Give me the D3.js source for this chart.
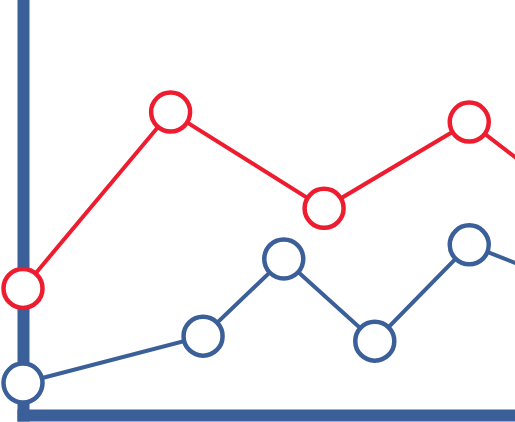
<!DOCTYPE html>
<html>
<head>
<meta charset="utf-8">
<script src="https://cdn.jsdelivr.net/npm/d3@7"></script>
<style>
  html, body { margin: 0; padding: 0; background: #fff; overflow: hidden; }
  svg { display: block; }
</style>
</head>
<body>
<svg></svg>
<script>
let width = 515, height = 422;

// data (x in arbitrary units, y in arbitrary units)
let redX = [0, 3.0, 6.12, 9.07, 10.9];
let redY = [3.05, 7.3, 4.98, 7.06, 5.4];
let blueX = [0, 3.66, 5.3, 7.15, 9.07, 10.9];
let blueY = [0.77, 1.9, 3.76, 1.78, 4.1, 3.25];

let red = "#ED1C2E", blue = "#3A5F99";

let svg = d3.select("svg")
    .attr("width", width)
    .attr("height", height);

let x = d3.scaleLinear().domain([0, 10]).range([23, 515]);
let y = d3.scaleLinear().domain([0, 10]).range([415, 0]);

// axes, no ticks, just fat domain lines
let xAxis = svg.append("g")
    .attr("transform", "translate(0," + 415 + ")")
    .call(d3.axisBottom(x).ticks(0).tickSizeOuter(0));
let yAxis = svg.append("g")
    .attr("transform", "translate(" + 23 + ",0)")
    .call(d3.axisLeft(y).ticks(0).tickSizeOuter(0));

svg.selectAll(".domain")
    .attr("stroke", blue)
    .attr("stroke-width", 12)
    .attr("stroke-linecap", "square");

let series = [
    {color: red, pts: redX.map((v, i) => [v, redY[i]])},
    {color: blue, pts: blueX.map((v, i) => [v, blueY[i]])}
];

let line = d3.line()
    .x(d => x(d[0]))
    .y(d => y(d[1]));

series.forEach(s => {
    svg.append("path")
        .datum(s.pts)
        .attr("d", line)
        .attr("fill", "none")
        .attr("stroke", s.color)
        .attr("stroke-width", 4);

    svg.append("g")
        .selectAll("circle")
        .data(s.pts)
        .enter()
        .append("circle")
        .attr("cx", d => x(d[0]))
        .attr("cy", d => y(d[1]))
        .attr("r", 19.5)
        .attr("fill", "#fff")
        .attr("stroke", s.color)
        .attr("stroke-width", 4.5);
});
</script>
</body>
</html>
